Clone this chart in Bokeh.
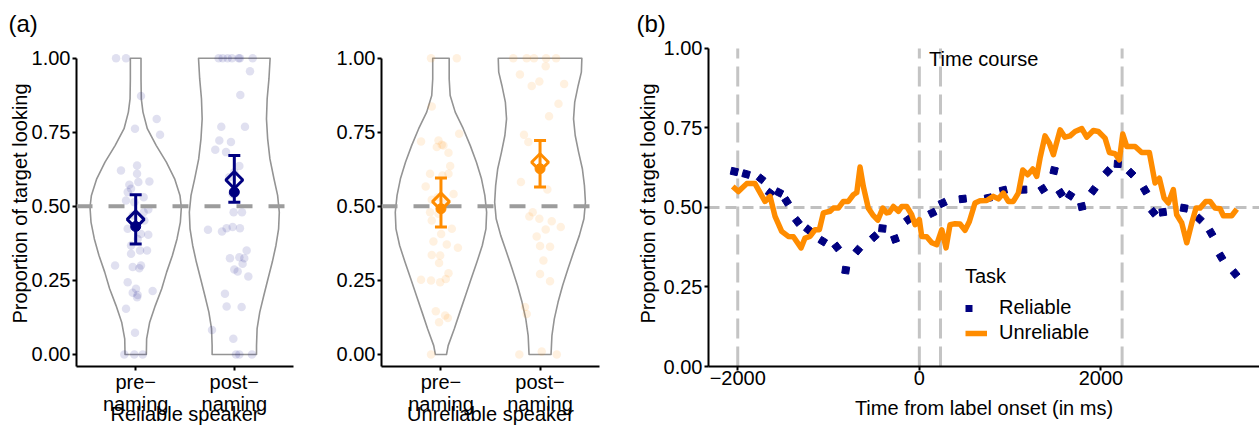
import math
from bokeh.plotting import figure
from bokeh.models import (Range1d, FixedTicker, Span, Label, Legend, LegendItem,
                          Whisker, ColumnDataSource, TeeHead, NumeralTickFormatter)
from bokeh.layouts import row
from bokeh.embed import file_html
from bokeh.resources import INLINE

FONT = "Liberation Sans"
NAVY = "#000080"
ORANGE = "#FF8C00"

# ---------------- data: panel (a) ----------------
conditions = ["pre\u2212\nnaming", "post\u2212\nnaming"]

# violin outlines: proportion levels and half-widths (x units)
v_rel_pre_y = [0.0, 0.053, 0.109, 0.165, 0.222, 0.278, 0.334, 0.390, 0.447, 0.497, 0.537, 0.593, 0.649, 0.705, 0.762, 0.818, 0.863, 0.930, 1.0]
v_rel_pre_w = [0.108, 0.111, 0.142, 0.199, 0.264, 0.314, 0.372, 0.419, 0.453, 0.463, 0.449, 0.395, 0.311, 0.209, 0.118, 0.074, 0.057, 0.054, 0.054]
v_rel_post_y = [0.0, 0.030, 0.087, 0.143, 0.199, 0.255, 0.312, 0.368, 0.424, 0.480, 0.537, 0.593, 0.660, 0.728, 0.795, 0.863, 0.930, 1.0]
v_rel_post_w = [0.225, 0.225, 0.231, 0.258, 0.299, 0.341, 0.385, 0.422, 0.449, 0.456, 0.439, 0.402, 0.361, 0.338, 0.326, 0.333, 0.351, 0.363]
v_unrel_pre_y = [0.0, 0.030, 0.087, 0.143, 0.199, 0.255, 0.312, 0.368, 0.424, 0.480, 0.537, 0.593, 0.649, 0.705, 0.762, 0.818, 0.874, 0.930, 1.0]
v_unrel_pre_w = [0.056, 0.073, 0.135, 0.191, 0.248, 0.304, 0.363, 0.417, 0.454, 0.461, 0.443, 0.409, 0.358, 0.296, 0.225, 0.144, 0.093, 0.083, 0.083]
v_unrel_post_y = [0.0, 0.064, 0.120, 0.177, 0.233, 0.289, 0.345, 0.402, 0.458, 0.514, 0.570, 0.627, 0.683, 0.739, 0.795, 0.852, 0.908, 0.953, 1.0]
v_unrel_post_w = [0.111, 0.120, 0.144, 0.182, 0.228, 0.282, 0.338, 0.397, 0.443, 0.458, 0.448, 0.427, 0.389, 0.355, 0.338, 0.350, 0.385, 0.417, 0.422]

# individual participants (jitter offset, proportion)
rel_pre_dx = [-0.199, -0.098, 0.054, 0.213, -0.007, 0.247, 0.014, -0.149, 0.014, 0.139, -0.064, 0.027, -0.047, -0.081, 0.081, -0.098, -0.014, 0.081, 0.128, -0.030, 0.088, -0.081, 0.054, 0.128, 0.020, -0.047, 0.115, 0.044, -0.047, -0.209, -0.030, 0.054, 0.037, -0.081, 0.003, -0.030, 0.020, 0.014, 0.172, -0.098, -0.007, -0.115, -0.014, 0.071]
rel_pre_y = [1.0, 1.0, 0.872, 0.795, 0.762, 0.742, 0.638, 0.621, 0.610, 0.584, 0.573, 0.582, 0.559, 0.548, 0.531, 0.520, 0.514, 0.480, 0.489, 0.469, 0.452, 0.424, 0.407, 0.404, 0.390, 0.368, 0.351, 0.351, 0.340, 0.300, 0.295, 0.300, 0.291, 0.244, 0.222, 0.208, 0.201, 0.193, 0.214, 0.154, 0.073, 0.0, 0.0, 0.0]
rel_post_dx = [-0.159, -0.118, -0.068, -0.024, 0.044, 0.057, 0.186, 0.159, 0.061, -0.132, 0.108, -0.152, -0.034, -0.193, -0.084, 0.051, 0.0, -0.051, -0.017, -0.007, 0.078, -0.267, -0.125, -0.078, -0.017, 0.057, -0.044, 0.051, 0.101, 0.125, 0.084, 0.0, 0.034, 0.142, -0.095, -0.078, 0.074, -0.226, -0.010, 0.017, 0.051, 0.179]
rel_post_y = [1.0, 1.0, 1.0, 1.0, 1.0, 1.0, 1.0, 0.956, 0.876, 0.769, 0.769, 0.722, 0.717, 0.691, 0.683, 0.636, 0.615, 0.598, 0.542, 0.480, 0.480, 0.421, 0.415, 0.426, 0.430, 0.426, 0.325, 0.328, 0.325, 0.351, 0.306, 0.287, 0.280, 0.263, 0.205, 0.162, 0.160, 0.083, 0.053, 0.0, 0.0, 0.0]
unrel_pre_dx = [-0.100, 0.160, -0.093, 0.184, -0.201, -0.025, 0.008, -0.042, 0.025, 0.076, 0.093, -0.110, 0.015, 0.076, -0.154, 0.127, -0.032, -0.093, 0.049, -0.110, -0.025, -0.093, 0.110, 0.002, -0.076, 0.059, 0.171, -0.093, -0.008, -0.019, -0.201, -0.100, -0.008, 0.049, 0.076, -0.052, 0.042, -0.019, 0.069, -0.100]
unrel_pre_y = [1.0, 1.0, 0.837, 0.745, 0.719, 0.722, 0.708, 0.700, 0.705, 0.681, 0.636, 0.610, 0.604, 0.610, 0.567, 0.542, 0.531, 0.522, 0.514, 0.480, 0.475, 0.452, 0.424, 0.407, 0.381, 0.371, 0.360, 0.336, 0.334, 0.309, 0.252, 0.250, 0.244, 0.255, 0.274, 0.146, 0.132, 0.109, 0.123, 0.0]
unrel_post_dx = [-0.270, -0.135, -0.061, 0.061, 0.162, 0.057, -0.203, -0.007, -0.084, 0.243, 0.186, 0.091, -0.162, -0.118, -0.193, 0.074, -0.074, -0.108, -0.007, 0.118, 0.209, 0.057, -0.034, 0.0, 0.101, 0.034, 0.0, 0.101, -0.152, -0.135, -0.209, 0.017, 0.169]
unrel_post_y = [1.0, 1.0, 1.0, 1.0, 1.0, 0.973, 0.945, 0.921, 0.906, 0.913, 0.846, 0.804, 0.742, 0.717, 0.582, 0.557, 0.480, 0.466, 0.458, 0.450, 0.430, 0.422, 0.398, 0.366, 0.364, 0.317, 0.272, 0.247, 0.160, 0.137, 0.0, 0.010, 0.0]

# summaries per condition (pre, post)
rel_mean = [0.456, 0.589]
rel_est = [0.432, 0.548]
rel_ci_lo = [0.373, 0.514]
rel_ci_hi = [0.539, 0.672]
unrel_mean = [0.516, 0.649]
unrel_est = [0.492, 0.627]
unrel_ci_lo = [0.430, 0.565]
unrel_ci_hi = [0.596, 0.722]

# ---------------- data: panel (b) ----------------
time_markers = [-2000, 0, 233, 2233]
unrel_t = [-2055, -1993, -1901, -1810, -1700, -1644, -1589, -1516, -1443, -1387,
           -1303, -1259, -1204, -1149, -1101, -1057, -983, -947, -892, -837,
           -782, -727, -689, -653, -617, -562, -513, -458, -403, -359,
           -330, -286, -231, -194, -139, -84, -47, 0, 26, 81,
           137, 191, 247, 294, 338, 393, 448, 503, 551, 613,
           668, 742, 815, 870, 925, 980, 1035, 1090, 1139, 1194,
           1249, 1293, 1329, 1384, 1432, 1476, 1550, 1604, 1660, 1715,
           1789, 1844, 1916, 1971, 2045, 2093, 2155, 2203, 2240, 2284,
           2376, 2449, 2533, 2596, 2643, 2695, 2742, 2797, 2834, 2890,
           2945, 3000, 3047, 3091, 3154, 3202, 3257, 3312, 3348, 3440,
           3496]
unrel_v = [0.566, 0.550, 0.575, 0.575, 0.519, 0.535, 0.472, 0.425, 0.409, 0.408,
           0.373, 0.404, 0.409, 0.430, 0.430, 0.483, 0.488, 0.498, 0.498, 0.519,
           0.519, 0.540, 0.547, 0.627, 0.566, 0.498, 0.477, 0.460, 0.498, 0.483,
           0.485, 0.503, 0.488, 0.503, 0.503, 0.477, 0.446, 0.462, 0.409, 0.408,
           0.389, 0.383, 0.430, 0.373, 0.446, 0.449, 0.448, 0.428, 0.456, 0.514,
           0.521, 0.522, 0.535, 0.527, 0.545, 0.519, 0.519, 0.545, 0.618, 0.603,
           0.621, 0.598, 0.655, 0.725, 0.702, 0.666, 0.744, 0.721, 0.725, 0.739,
           0.748, 0.721, 0.742, 0.739, 0.718, 0.673, 0.669, 0.650, 0.731, 0.692,
           0.692, 0.673, 0.673, 0.577, 0.592, 0.530, 0.514, 0.556, 0.477, 0.451,
           0.389, 0.451, 0.498, 0.498, 0.519, 0.519, 0.498, 0.496, 0.474, 0.474,
           0.495]
rel_t = [-2037, -1908, -1743, -1644, -1545, -1461, -1343, -1222, -1064, -910,
         -811, -678, -496, -407, -268, -121, 143, 257, 478, 760,
         925, 1145, 1359, 1484, 1557, 1660, 1789, 1916, 2075, 2185,
         2331, 2486, 2577, 2681, 2915, 3084, 3213, 3323, 3477]
rel_v = [0.613, 0.605, 0.590, 0.545, 0.547, 0.519, 0.456, 0.430, 0.394, 0.376,
         0.303, 0.366, 0.408, 0.434, 0.401, 0.462, 0.483, 0.514, 0.527, 0.530,
         0.554, 0.556, 0.558, 0.616, 0.545, 0.538, 0.503, 0.554, 0.613, 0.637,
         0.608, 0.554, 0.485, 0.485, 0.498, 0.464, 0.420, 0.345, 0.292]

H = 428
TOP = 40
A_Y0, A_Y1 = -0.0405, 1.0597
B_X0, B_X1 = -2322, 3746
B_Y0, B_Y1 = 0.0, 1.025


def style_axes(p):
    p.grid.visible = False
    p.outline_line_color = None
    for ax in p.axis:
        ax.axis_line_width = 2
        ax.axis_line_color = "black"
        ax.major_tick_line_color = "black"
        ax.major_tick_line_width = 2
        ax.major_tick_out = 4
        ax.major_tick_in = 0
        ax.minor_tick_line_color = None
        ax.major_label_text_font = FONT
        ax.major_label_text_font_size = "20px"
        ax.major_label_text_color = "black"
        ax.axis_label_text_font = FONT
        ax.axis_label_text_font_size = "20px"
        ax.axis_label_text_font_style = "normal"
        ax.axis_label_text_color = "black"
        ax.major_label_standoff = 2
        ax.axis_label_standoff = 2
    p.xaxis.major_label_standoff = 0


def panel_title(p, text, offset):
    p.title.text = text
    p.title.align = "left"
    p.title.offset = offset
    p.title.standoff = 7
    p.title.text_font = FONT
    p.title.text_font_size = "24px"
    p.title.text_font_style = "normal"
    p.title.text_color = "black"


def violin_panel(width, left, right, color, violins, points, mean, est, lo, hi, xlabel, ylabel):
    p = figure(width=width, height=H, x_range=Range1d(0.4, 2.6), y_range=Range1d(A_Y0, A_Y1),
               output_backend="svg", toolbar_location=None,
               min_border_left=left, min_border_right=right, min_border_top=TOP, min_border_bottom=62)
    style_axes(p)
    for c, (ys, ws) in zip([1, 2], violins):
        xs = [c + w for w in ws] + [c - w for w in reversed(ws)]
        yy = list(ys) + list(reversed(ys))
        p.patch(xs, yy, fill_color="white", fill_alpha=0.0, line_color="#949494", line_width=1.6,
                line_join="round")
    for c, (dx, py) in zip([1, 2], points):
        p.scatter([c + d for d in dx], py, marker="circle", size=8.5, fill_color=color,
                  fill_alpha=0.12, line_color=None)
    p.add_layout(Span(location=0.5, dimension="width", line_color="#9c9c9c", line_width=4,
                      line_dash="16 16", level="annotation"))
    src = ColumnDataSource(dict(x=[1, 2], mean=mean, est=est, lo=lo, hi=hi))
    w = Whisker(base="x", upper="hi", lower="lo", source=src, line_color=color, line_width=3,
                upper_head=TeeHead(size=12, line_color=color, line_width=3),
                lower_head=TeeHead(size=12, line_color=color, line_width=3), level="overlay")
    p.add_layout(w)
    p.scatter("x", "est", source=src, marker="circle", size=10, fill_color=color,
              line_color=color, level="overlay")
    p.scatter("x", "mean", source=src, marker="square", angle=math.pi / 4, size=12,
              fill_color=None, line_color=color, line_width=3, level="overlay")
    p.xaxis.ticker = FixedTicker(ticks=[1, 2])
    p.xaxis.major_label_overrides = {1: conditions[0], 2: conditions[1]}
    p.xaxis.major_label_text_line_height = 1.0
    p.xaxis.axis_label = xlabel
    p.xaxis.axis_label_standoff = -15
    p.yaxis.ticker = FixedTicker(ticks=[0, 0.25, 0.5, 0.75, 1.0])
    p.yaxis.formatter = NumeralTickFormatter(format="0.00")
    p.yaxis.bounds = (A_Y0, 1.0)
    if ylabel:
        p.yaxis.axis_label = ylabel
        p.yaxis.axis_label_standoff = -2
    return p


p1 = violin_panel(300, 76, 7, NAVY,
                  [(v_rel_pre_y, v_rel_pre_w), (v_rel_post_y, v_rel_post_w)],
                  [(rel_pre_dx, rel_pre_y), (rel_post_dx, rel_post_y)],
                  rel_mean, rel_est, rel_ci_lo, rel_ci_hi, "Reliable speaker",
                  "Proportion of target looking")
panel_title(p1, "(a)", -68)
p2 = violin_panel(320, 81, 21, ORANGE,
                  [(v_unrel_pre_y, v_unrel_pre_w), (v_unrel_post_y, v_unrel_post_w)],
                  [(unrel_pre_dx, unrel_pre_y), (unrel_post_dx, unrel_post_y)],
                  unrel_mean, unrel_est, unrel_ci_lo, unrel_ci_hi, "Unreliable speaker", None)

# ---------------- panel (b) ----------------
B_LEFT, B_W, B_BOTTOM = 88, 639, 62
p3 = figure(width=B_W, height=H, x_range=Range1d(B_X0, B_X1), y_range=Range1d(B_Y0, B_Y1),
            output_backend="svg", toolbar_location=None,
            min_border_left=B_LEFT, min_border_right=0, min_border_top=TOP, min_border_bottom=B_BOTTOM)
style_axes(p3)
panel_title(p3, "(b)", -72)
p3.add_layout(Span(location=0.5, dimension="width", line_color="#c0c0c0", line_width=3,
                   line_dash="11 6", level="underlay"))
p3.segment(x0=time_markers, y0=[0] * len(time_markers), x1=time_markers, y1=[1] * len(time_markers),
           line_color="#c4c4c4", line_width=3, line_dash="20 8")

# orientation of the dotted-line dots along the path (screen space)
sx = (B_W - B_LEFT) / (B_X1 - B_X0)
sy = (H - B_BOTTOM - TOP) / (B_Y1 - B_Y0)
angles = []
for i in range(len(rel_t)):
    a, b = max(i - 1, 0), min(i + 1, len(rel_t) - 1)
    angles.append(math.atan2((rel_v[b] - rel_v[a]) * sy, (rel_t[b] - rel_t[a]) * sx))
p3.scatter(rel_t, rel_v, marker="square", size=7, angle=angles, fill_color=NAVY, line_color=NAVY)
# legend key for the dotted Reliable line (data kept outside the visible range)
rel_key = p3.line([B_X0 - 5000, B_X0 - 4000], [0.5, 0.5], line_color=NAVY, line_width=7,
                  line_dash="7 40", line_cap="butt")
unrel_line = p3.line(unrel_t, unrel_v, line_color=ORANGE, line_width=5.5, line_join="round")

p3.add_layout(Label(x=107, y=0.966, text="Time course", text_font=FONT, text_font_size="20px",
                    text_baseline="middle", text_align="left", text_color="black"))

legend = Legend(items=[LegendItem(label="Reliable", renderers=[rel_key]),
                       LegendItem(label="Unreliable", renderers=[unrel_line])],
                title="Task", location=(257, 22), padding=0, margin=0, spacing=2,
                glyph_width=22, glyph_height=20, label_standoff=12, label_height=20,
                border_line_color=None, background_fill_alpha=0,
                label_text_font=FONT, label_text_font_size="20px", label_text_color="black",
                title_text_font=FONT, title_text_font_size="20px", title_text_font_style="normal",
                title_text_color="black", title_standoff=8)
p3.add_layout(legend)

p3.xaxis.ticker = FixedTicker(ticks=[-2000, 0, 2000])
p3.xaxis.major_label_overrides = {-2000: "\u22122000", 0: "0", 2000: "2000"}
p3.xaxis.axis_label = "Time from label onset (in ms)"
p3.xaxis.axis_label_standoff = 9
p3.yaxis.ticker = FixedTicker(ticks=[0, 0.25, 0.5, 0.75, 1.0])
p3.yaxis.formatter = NumeralTickFormatter(format="0.00")
p3.yaxis.bounds = (0, 1.0)
p3.yaxis.axis_label = "Proportion of target looking"

layout = row(p1, p2, p3)
open("out.html", "w").write(file_html(layout, INLINE))
